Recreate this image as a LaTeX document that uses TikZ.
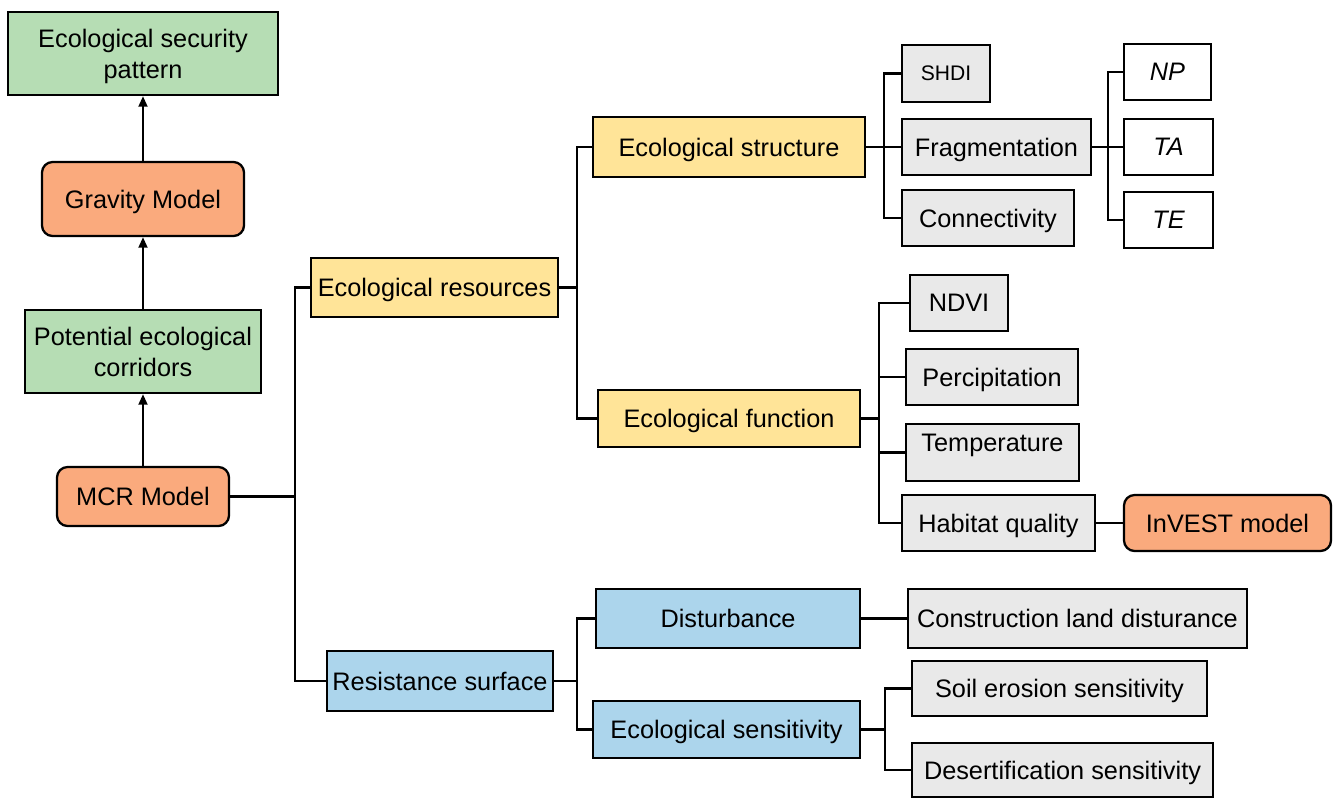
\documentclass[tikz,border=0pt]{standalone}
\usepackage{fontspec}
\setmainfont{Liberation Sans}
\usetikzlibrary{arrows.meta,calc}
\definecolor{cgreen}{RGB}{182,221,180}
\definecolor{corange}{RGB}{250,170,125}
\definecolor{cyellow}{RGB}{255,228,152}
\definecolor{cblue}{RGB}{172,213,236}
\definecolor{cgray}{RGB}{233,233,233}
\tikzset{
  txt/.style={font=\fontsize{14.4}{17.5}\selectfont, text depth=0pt},
  base/.style={draw=black, line width=1.3pt, inner sep=0pt, align=center, txt},
  gbox/.style={base, fill=cgreen},
  obox/.style={base, fill=corange, rounded corners=6pt},
  ybox/.style={base, fill=cyellow},
  blbox/.style={base, fill=cblue},
  grbox/.style={base, fill=cgray},
  wbox/.style={base, fill=white, font=\fontsize{14.4}{17.5}\selectfont\itshape},
  conn/.style={line width=1.3pt, draw=black},
  arr/.style={conn, -{Triangle[length=6pt,width=5pt]}},
}
\newcommand{\mkbox}[7]{\node[#1, minimum width={(#5-#3)*0.02cm}, minimum height={(#6-#4)*0.02cm}] (#2) at ({(#3+#5)/2},{(#4+#6)/2}) {#7};}
\begin{document}
\begin{tikzpicture}[x=0.02cm,y=-0.02cm]
\useasboundingbox (0,0) rectangle (1336,798);
% left column
\mkbox{gbox}{esp}{8}{12}{278}{95}{Ecological security\\pattern}
\mkbox{obox}{grav}{42}{162}{244}{236}{Gravity Model}
\mkbox{gbox}{pec}{25}{310}{261}{393}{Potential ecological\\corridors}
\mkbox{obox}{mcr}{57}{467}{229}{526}{MCR Model}
\draw[arr] (grav.north) -- (esp.south);
\draw[arr] (pec.north) -- (grav.south);
\draw[arr] (mcr.north) -- (pec.south);
% second level
\mkbox{ybox}{er}{311}{258}{558}{317}{Ecological resources}
\mkbox{blbox}{rs}{327}{651}{553}{711}{Resistance surface}
\coordinate (b1) at (295,0);
\draw[conn] (mcr.east) -- (mcr.east -| b1) |- (er.west);
\draw[conn] (mcr.east -| b1) |- (rs.west);
% third level
\mkbox{ybox}{est}{593}{117}{865}{177}{Ecological structure}
\mkbox{ybox}{efn}{598}{390}{860}{447}{Ecological function}
\coordinate (b2) at (577,0);
\draw[conn] (er.east) -- (er.east -| b2) |- (est.west);
\draw[conn] (er.east -| b2) |- (efn.west);
\mkbox{blbox}{dist}{596}{589}{860}{648}{Disturbance}
\mkbox{blbox}{esen}{593}{701}{860}{758}{Ecological sensitivity}
\draw[conn] (rs.east) -- (rs.east -| b2) |- (dist.west);
\draw[conn] (rs.east -| b2) |- (esen.west);
% structure children
\mkbox{grbox,font=\fontsize{12}{14}\selectfont}{shdi}{902}{45}{990}{102}{SHDI}
\mkbox{grbox}{frag}{902}{119}{1091}{175}{Fragmentation}
\mkbox{grbox}{conv}{902}{190}{1074}{246}{Connectivity}
\coordinate (b3) at (884,0);
\draw[conn] (est.east) -- (est.east -| frag.west);
\draw[conn] (est.east -| b3) |- (shdi.west);
\draw[conn] (est.east -| b3) |- (conv.west);
\mkbox{wbox}{np}{1124}{44}{1211}{100}{NP}
\mkbox{wbox}{ta}{1124}{119}{1213}{175}{TA}
\mkbox{wbox}{te}{1124}{192}{1213}{248}{TE}
\coordinate (b4) at (1108,0);
\draw[conn] (frag.east) -- (ta.west);
\draw[conn] (frag.east -| b4) |- (np.west);
\draw[conn] (frag.east -| b4) |- (te.west);
% function children
\mkbox{grbox}{ndvi}{910}{275}{1008}{331}{NDVI}
\mkbox{grbox}{perc}{906}{349}{1078}{405}{Percipitation}
\mkbox{grbox}{temp}{906}{424}{1079}{481}{}
\node[txt, inner sep=0pt] (templ) at ($(temp.center)+(0,-10)$) {Temperature};
\mkbox{grbox}{hab}{902}{495}{1095}{551}{Habitat quality}
\mkbox{obox}{inv}{1124}{495}{1331}{551}{InVEST model}
\coordinate (b5) at (879,0);
\draw[conn] (efn.east) -- (efn.east -| b5);
\draw[conn] (ndvi.west) -| (b5 |- hab.west) -- (hab.west);
\draw[conn] (perc.west) -- (perc.west -| b5);
\draw[conn] (temp.west) -- (temp.west -| b5);
\draw[conn] (hab.east) -- (hab.east -| inv.west);
% resistance children
\mkbox{grbox}{cld}{908}{589}{1247}{648}{Construction land disturance}
\draw[conn] (dist.east) -- (dist.east -| cld.west);
\mkbox{grbox}{ses}{912}{661}{1207}{716}{Soil erosion sensitivity}
\mkbox{grbox}{des}{912}{743}{1213}{797}{Desertification sensitivity}
\coordinate (b6) at (885,0);
\draw[conn] (esen.east) -- (esen.east -| b6);
\draw[conn] (ses.west) -| (b6 |- des.west) -- (des.west);
\end{tikzpicture}
\end{document}
